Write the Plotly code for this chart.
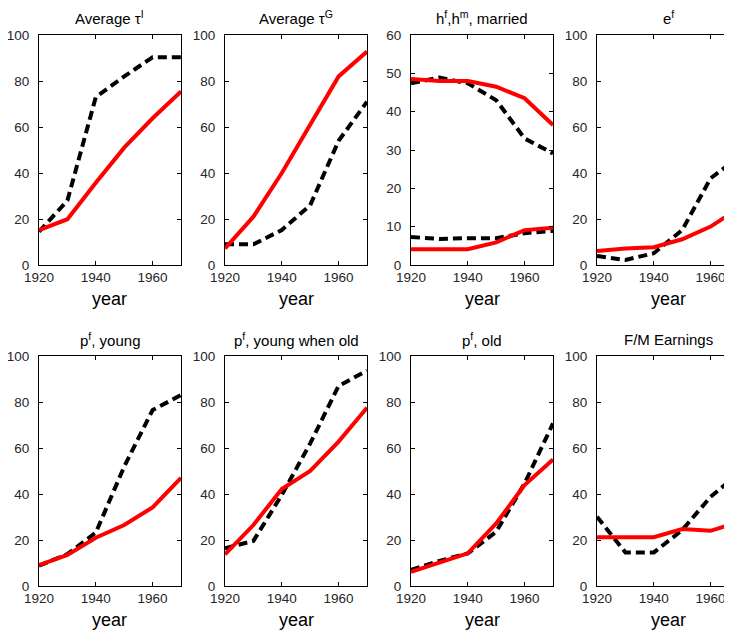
import plotly.graph_objects as go

years = [1920, 1930, 1940, 1950, 1960, 1970]

# Panel 1: Average tau^I
tauI_model = [15.2, 19.9, 35.8, 51.0, 63.8, 75.4]
tauI_data = [14.5, 28.0, 73.0, 82.0, 90.3, 90.3]
# Panel 2: Average tau^G
tauG_model = [7.2, 21.0, 40.0, 61.0, 82.0, 92.8]
tauG_data = [9.0, 9.0, 15.2, 26.0, 54.0, 71.0]
# Panel 3: h^f, h^m married
hm_model = [48.5, 48.0, 48.0, 46.5, 43.5, 36.5]
hm_data = [47.4, 48.9, 47.4, 43.0, 33.0, 29.1]
hf_model = [4.1, 4.1, 4.1, 5.9, 9.1, 9.7]
hf_data = [7.3, 6.8, 7.0, 7.0, 8.3, 8.9]
# Panel 4: e^f
ef_model = [6.1, 7.2, 7.7, 11.2, 16.7, 24.8]
ef_data = [3.9, 2.2, 5.1, 15.2, 37.7, 47.0]
# Panel 5: p^f young
pyoung_model = [9.1, 13.5, 21.0, 26.5, 34.2, 47.0]
pyoung_data = [8.8, 13.9, 23.2, 51.9, 76.5, 83.0]
# Panel 6: p^f young when old
pyo_model = [13.8, 26.5, 42.2, 50.0, 62.8, 77.5]
pyo_data = [16.4, 19.6, 39.6, 62.0, 87.0, 93.6]
# Panel 7: p^f old
pold_model = [6.1, 10.1, 14.2, 27.2, 43.9, 55.0]
pold_data = [7.0, 10.9, 14.2, 23.6, 44.6, 70.7]
# Panel 8: F/M earnings
earn_model = [21.2, 21.2, 21.2, 24.8, 24.0, 27.8]
earn_data = [30.1, 14.6, 14.6, 24.3, 38.8, 49.0]

titles = ["Average τ<sup>I</sup>", "Average τ<sup>G</sup>", "h<sup>f</sup>,h<sup>m</sup>, married", "e<sup>f</sup>",
          "p<sup>f</sup>, young", "p<sup>f</sup>, young when old", "p<sup>f</sup>, old", "F/M Earnings"]
panels = [
    [(tauI_data, tauI_model)],
    [(tauG_data, tauG_model)],
    [(hm_data, hm_model), (hf_data, hf_model)],
    [(ef_data, ef_model)],
    [(pyoung_data, pyoung_model)],
    [(pyo_data, pyo_model)],
    [(pold_data, pold_model)],
    [(earn_data, earn_model)],
]
yranges = [100, 100, 60, 100, 100, 100, 100, 100]
xticks = [1920, 1940, 1960]

W, H = 732, 633
OFF = 8  # page body margin
col_left = [39 - OFF, 225 - OFF, 411 - OFF, 597 - OFF]
col_w = 142
row_top = [35 - OFF, 356 - OFF]
row_h = 230
x_limit = W - OFF

fig = go.Figure()
font = "Liberation Sans, Arial, sans-serif"
annotations = []
for i in range(8):
    r, c = divmod(i, 4)
    ax = "" if i == 0 else str(i + 1)
    x0 = col_left[c]
    x1 = min(x0 + col_w, x_limit)
    xmax = 1920 + 50 * (x1 - x0) / col_w
    y_top = row_top[r]
    y_bot = y_top + row_h
    dom_x = [x0 / W, x1 / W]
    dom_y = [1 - y_bot / H, 1 - y_top / H]
    for data, model in panels[i]:
        fig.add_trace(go.Scatter(x=years, y=data, mode="lines", xaxis="x" + ax, yaxis="y" + ax,
                                 line=dict(color="black", width=4, dash="9px,5px"), showlegend=False))
    for data, model in panels[i]:
        fig.add_trace(go.Scatter(x=years, y=model, mode="lines", xaxis="x" + ax, yaxis="y" + ax,
                                 line=dict(color="#FF0000", width=4), showlegend=False))
    ystep = 10 if yranges[i] == 60 else 20
    fig.update_layout(**{
        "xaxis" + ax: dict(domain=dom_x, range=[1920, xmax], anchor="y" + ax, tickvals=xticks,
                           showline=True, linecolor="black", linewidth=1, mirror="ticks",
                           ticks="inside", ticklen=4, tickcolor="black", showgrid=False, zeroline=False,
                           automargin=False,
                           tickfont=dict(size=13.5, color="#262626", family=font)),
        "yaxis" + ax: dict(domain=dom_y, range=[0, yranges[i]], anchor="x" + ax,
                           tickvals=list(range(0, yranges[i] + 1, ystep)),
                           showline=True, linecolor="black", linewidth=1,
                           mirror=("ticks" if c < 3 else False),
                           ticks="inside", ticklen=4, tickcolor="black", showgrid=False, zeroline=False,
                           automargin=False, ticklabelstandoff=6,
                           tickfont=dict(size=13.5, color="#262626", family=font)),
    })
    cx = (x0 + col_w / 2) / W
    annotations.append(dict(text=titles[i], x=cx, y=1 - (y_top - 17) / H, xref="paper", yref="paper",
                            showarrow=False, font=dict(size=15, color="black", family=font),
                            xanchor="center", yanchor="middle"))
    annotations.append(dict(text="year", x=cx, y=1 - (y_bot + 34) / H, xref="paper", yref="paper",
                            showarrow=False, font=dict(size=18, color="black", family=font),
                            xanchor="center", yanchor="middle"))

fig.update_layout(width=W, height=H, margin=dict(l=0, r=0, t=0, b=0, autoexpand=False),
                  paper_bgcolor="white", plot_bgcolor="white", annotations=annotations,
                  font=dict(family=font))
fig.write_html("out.html")
